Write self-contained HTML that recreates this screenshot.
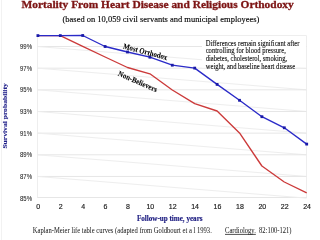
<!DOCTYPE html>
<html><head><meta charset="utf-8"><style>
html,body{margin:0;padding:0;background:#fff;width:320px;height:240px;overflow:hidden}
svg{display:block}
.ser{font-family:"Liberation Serif",serif}
.ax{font-family:"Liberation Sans",sans-serif;font-size:6px;fill:#222;stroke:#222;stroke-width:0.05}
.axx{font-family:"Liberation Sans",sans-serif;font-size:7px;fill:#1a1a1a;stroke:#1a1a1a;stroke-width:0.16}
</style></head><body>
<svg style="will-change:transform" width="320" height="240" viewBox="0 0 320 240">
<rect width="320" height="240" fill="#fff"/>
<line x1="1.5" y1="0" x2="1.5" y2="240" stroke="#f2f2f2" stroke-width="1"/>
<!-- plot frame -->
<line x1="37.5" y1="35.5" x2="37.5" y2="198" stroke="#eeeeee" stroke-width="1"/>
<line x1="37.5" y1="35.5" x2="306.5" y2="35.5" stroke="#eeeeee" stroke-width="1"/>
<line x1="306.5" y1="35.5" x2="306.5" y2="198" stroke="#eeeeee" stroke-width="1"/>
<line x1="37.5" y1="197.5" x2="306.5" y2="197.5" stroke="#e6e6e6" stroke-width="1"/>
<line x1="37.5" y1="46.50" x2="306.5" y2="46.50" stroke="#e6e6e6" stroke-width="1"/>
<line x1="37.5" y1="46.50" x2="306.5" y2="68.16" stroke="#eeeeee" stroke-width="1"/>
<line x1="37.5" y1="68.16" x2="306.5" y2="68.16" stroke="#e6e6e6" stroke-width="1"/>
<line x1="37.5" y1="68.16" x2="306.5" y2="89.82" stroke="#eeeeee" stroke-width="1"/>
<line x1="37.5" y1="89.82" x2="306.5" y2="89.82" stroke="#e6e6e6" stroke-width="1"/>
<line x1="37.5" y1="89.82" x2="306.5" y2="111.48" stroke="#eeeeee" stroke-width="1"/>
<line x1="37.5" y1="111.48" x2="306.5" y2="111.48" stroke="#e6e6e6" stroke-width="1"/>
<line x1="37.5" y1="111.48" x2="306.5" y2="133.14" stroke="#eeeeee" stroke-width="1"/>
<line x1="37.5" y1="133.14" x2="306.5" y2="133.14" stroke="#e6e6e6" stroke-width="1"/>
<line x1="37.5" y1="133.14" x2="306.5" y2="154.80" stroke="#eeeeee" stroke-width="1"/>
<line x1="37.5" y1="154.80" x2="306.5" y2="154.80" stroke="#e6e6e6" stroke-width="1"/>
<line x1="37.5" y1="154.80" x2="306.5" y2="176.46" stroke="#eeeeee" stroke-width="1"/>
<line x1="37.5" y1="176.46" x2="306.5" y2="176.46" stroke="#e6e6e6" stroke-width="1"/>
<line x1="37.5" y1="176.46" x2="306.5" y2="198.12" stroke="#eeeeee" stroke-width="1"/>

<text class="ser" font-size="10.85" font-weight="bold" fill="#7d1515" stroke="#7d1515" stroke-width="0.3" transform="translate(21.4,7.7) scale(1.053,1.02)">Mortality From Heart Disease and Religious Orthodoxy</text>
<text class="ser" font-size="8.5" fill="#000" stroke="#000" stroke-width="0.12" transform="translate(62.5,21.7) scale(1,1.08)">(based on 10,059 civil servants and municipal employees)</text>
<rect x="202" y="37" width="104" height="30.5" fill="#fff"/>
<g class="ser" font-size="6.6" fill="#111" stroke="#111" stroke-width="0.1">
<text transform="translate(205.7,45.6) scale(1,1.1)">Differences remain significant after</text>
<text transform="translate(205.7,53.3) scale(1,1.1)">controlling for blood pressure,</text>
<text transform="translate(205.7,61) scale(1,1.1)">diabetes, cholesterol, smoking,</text>
<text transform="translate(205.7,68.7) scale(1,1.1)">weight, and baseline heart disease</text>
</g>
<text transform="translate(32,48.90) scale(1,1.18)" text-anchor="end" class="ax">99%</text>
<text transform="translate(32,70.56) scale(1,1.18)" text-anchor="end" class="ax">97%</text>
<text transform="translate(32,92.22) scale(1,1.18)" text-anchor="end" class="ax">95%</text>
<text transform="translate(32,113.88) scale(1,1.18)" text-anchor="end" class="ax">93%</text>
<text transform="translate(32,135.54) scale(1,1.18)" text-anchor="end" class="ax">91%</text>
<text transform="translate(32,157.20) scale(1,1.18)" text-anchor="end" class="ax">89%</text>
<text transform="translate(32,178.86) scale(1,1.18)" text-anchor="end" class="ax">87%</text>
<text transform="translate(32,200.52) scale(1,1.18)" text-anchor="end" class="ax">85%</text>

<text x="38.30" y="208.6" text-anchor="middle" class="axx">0</text>
<text x="60.70" y="208.6" text-anchor="middle" class="axx">2</text>
<text x="83.10" y="208.6" text-anchor="middle" class="axx">4</text>
<text x="105.50" y="208.6" text-anchor="middle" class="axx">6</text>
<text x="127.90" y="208.6" text-anchor="middle" class="axx">8</text>
<text x="150.30" y="208.6" text-anchor="middle" class="axx">10</text>
<text x="172.70" y="208.6" text-anchor="middle" class="axx">12</text>
<text x="195.10" y="208.6" text-anchor="middle" class="axx">14</text>
<text x="217.50" y="208.6" text-anchor="middle" class="axx">16</text>
<text x="239.90" y="208.6" text-anchor="middle" class="axx">18</text>
<text x="262.30" y="208.6" text-anchor="middle" class="axx">20</text>
<text x="284.70" y="208.6" text-anchor="middle" class="axx">22</text>
<text x="307.10" y="208.6" text-anchor="middle" class="axx">24</text>

<polyline points="37.90,35.60 60.30,35.60 82.70,46.30 105.10,57.00 127.50,67.50 149.90,73.80 172.30,90.00 194.70,103.60 217.10,111.00 239.50,132.90 261.90,166.00 284.30,182.00 306.70,192.80" fill="none" stroke="#cc3a3a" stroke-width="1.35" stroke-linejoin="round"/>
<polyline points="37.90,35.60 60.30,35.60 82.70,35.50 105.10,46.50 127.50,52.00 149.90,57.20 172.30,65.20 194.70,68.10 217.10,84.40 239.50,100.30 261.90,116.70 284.30,127.80 306.70,144.10" fill="none" stroke="#2a2ac8" stroke-width="1.35" stroke-linejoin="round"/>
<rect x="36.50" y="34.20" width="2.8" height="2.8" fill="#1a1aa8"/>
<rect x="58.90" y="34.20" width="2.8" height="2.8" fill="#1a1aa8"/>
<rect x="81.30" y="34.10" width="2.8" height="2.8" fill="#1a1aa8"/>
<rect x="103.70" y="45.10" width="2.8" height="2.8" fill="#1a1aa8"/>
<rect x="126.10" y="50.60" width="2.8" height="2.8" fill="#1a1aa8"/>
<rect x="148.50" y="55.80" width="2.8" height="2.8" fill="#1a1aa8"/>
<rect x="170.90" y="63.80" width="2.8" height="2.8" fill="#1a1aa8"/>
<rect x="193.30" y="66.70" width="2.8" height="2.8" fill="#1a1aa8"/>
<rect x="215.70" y="83.00" width="2.8" height="2.8" fill="#1a1aa8"/>
<rect x="238.10" y="98.90" width="2.8" height="2.8" fill="#1a1aa8"/>
<rect x="260.50" y="115.30" width="2.8" height="2.8" fill="#1a1aa8"/>
<rect x="282.90" y="126.40" width="2.8" height="2.8" fill="#1a1aa8"/>
<rect x="305.30" y="142.70" width="2.8" height="2.8" fill="#1a1aa8"/>

<text class="ser" font-size="6.75" font-weight="bold" fill="#000" stroke="#000" stroke-width="0.05" transform="translate(122.8,48.4) rotate(15) scale(1.02,1.18)">Most Orthodox</text>
<text class="ser" font-size="7.0" font-weight="bold" fill="#000" stroke="#000" stroke-width="0.08" transform="translate(117.6,75.6) rotate(23.5) scale(1,1.12)">Non-Believers</text>
<text class="ser" font-size="7.6" font-weight="bold" fill="#1e1e88" stroke="#1e1e88" stroke-width="0.14" transform="translate(6.8,148.6) rotate(-90) scale(1,0.88)">Survival probability</text>
<text class="ser" font-size="7.1" font-weight="bold" fill="#1c1c80" stroke="#1c1c80" stroke-width="0.15" transform="translate(137,220.6) scale(1,1.2)">Follow-up time, years</text>
<text class="ser" transform="translate(32.8,232.9) scale(1,1.1)" font-size="6.6" fill="#1a1a1a" stroke="#1a1a1a" stroke-width="0.02">Kaplan-Meier life table curves (adapted from Goldbourt et a l 1993.</text>
<text class="ser" transform="translate(225,232.9) scale(1,1.1)" font-size="6.6" fill="#1a1a1a" stroke="#1a1a1a" stroke-width="0.02" text-decoration="underline">Cardiology.</text>
<text class="ser" transform="translate(259,232.9) scale(1,1.1)" font-size="6.6" fill="#1a1a1a" stroke="#1a1a1a" stroke-width="0.02">82:100-121)</text>
</svg>
</body></html>
